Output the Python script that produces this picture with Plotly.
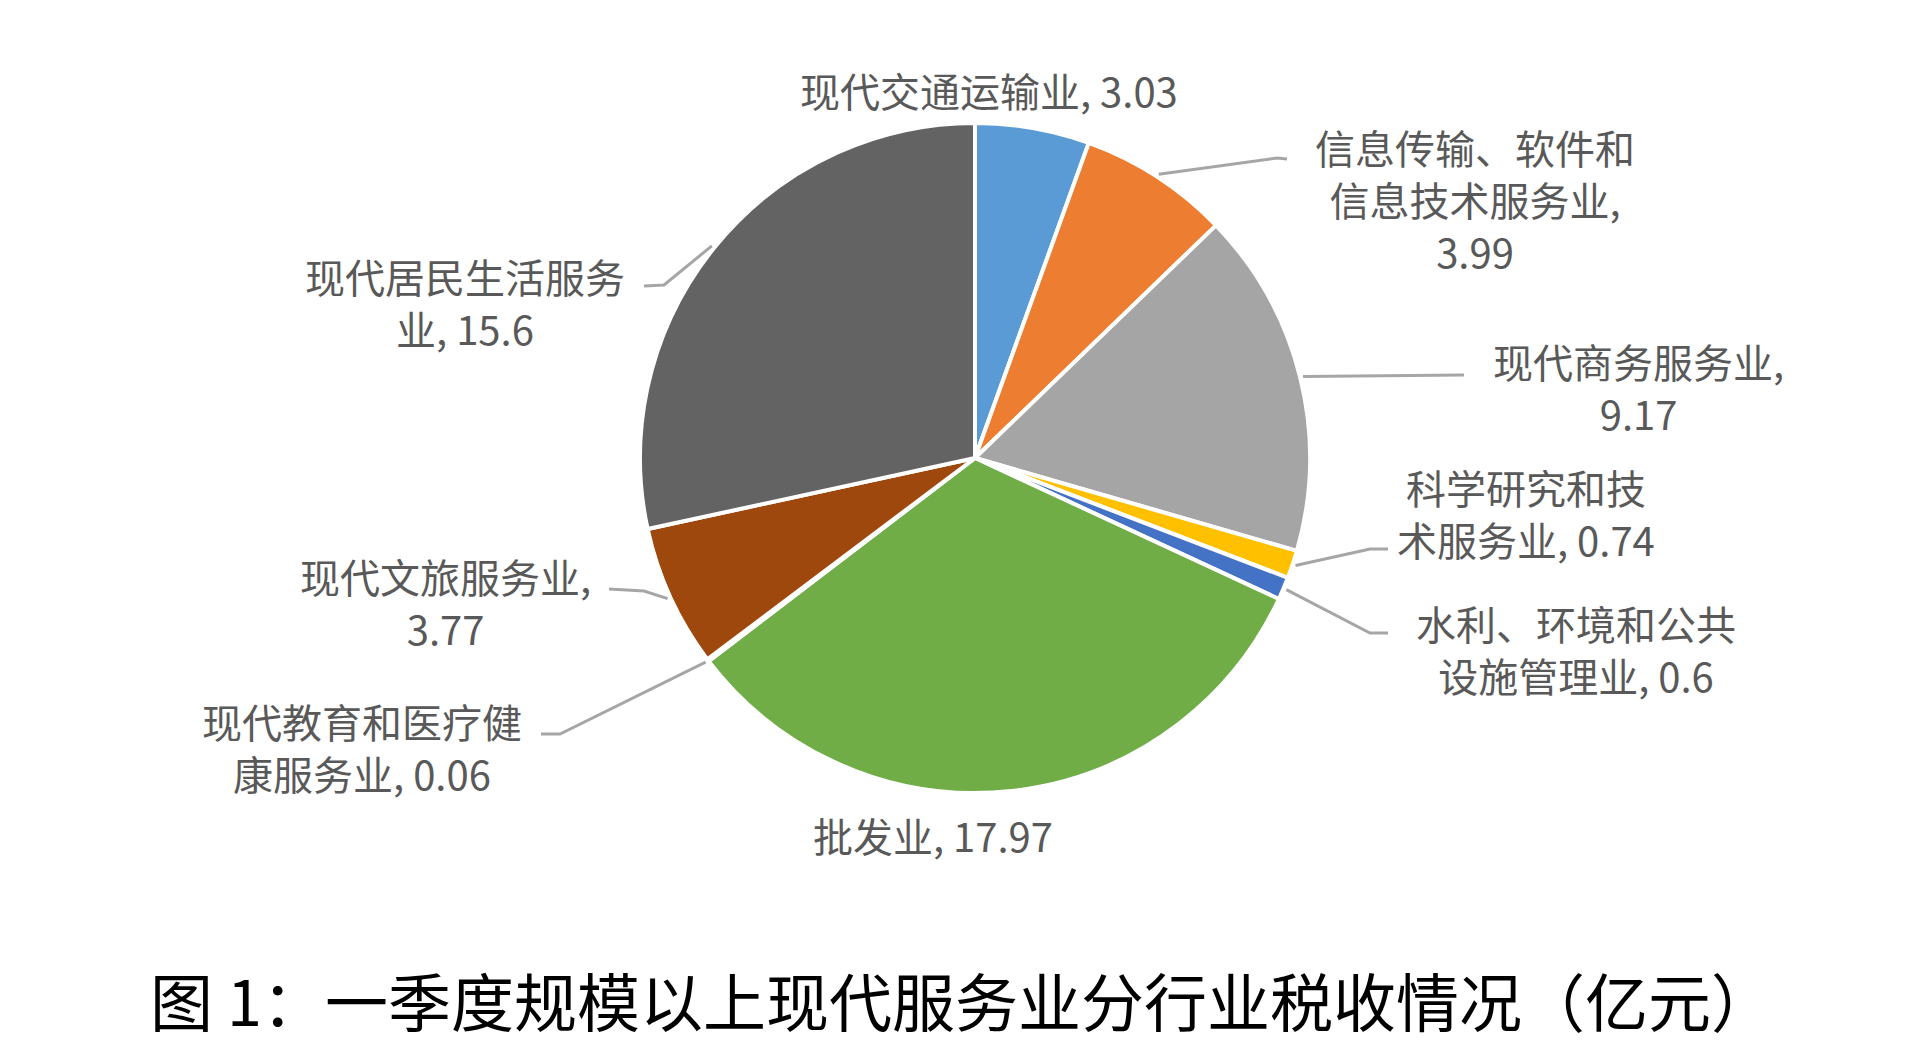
import math
import plotly.graph_objects as go

# ---------------- data ----------------

INDUSTRIES = [
    "现代交通运输业",
    "信息传输、软件和信息技术服务业",
    "现代商务服务业",
    "科学研究和技术服务业",
    "水利、环境和公共设施管理业",
    "批发业",
    "现代教育和医疗健康服务业",
    "现代文旅服务业",
    "现代居民生活服务业",
]

TAX = [3.03, 3.99, 9.17, 0.74, 0.6, 17.97, 0.06, 3.77, 15.6]

TITLE = "图 1：一季度规模以上现代服务业分行业税收情况（亿元）"

# ---------------- style / layout ----------------

W, H = 1920, 1061
PAGE_OFFSET = 8                    # browser body margin
CX, CY, R = 975, 458, 335          # pie centre and radius in page pixels

COLORS = ["#5B9BD5", "#ED7D31", "#A5A5A5", "#FFC000", "#4472C4",
          "#70AD47", "#264478", "#9E480E", "#636363"]

# where to wrap the name, and whether the value goes on its own line
WRAP = [None, 8, None, 6, 8, None, 8, None, 8]
VALUE_NEWLINE = [False, True, True, False, False, False, False, True, False]

# label block centres (page pixels)
LABEL_POS = [(989, 90), (1475, 199), (1638, 387), (1526, 513), (1576, 649),
             (933, 835), (362, 747), (445, 602), (465, 302)]

# leader line bend / end points after the slice edge; None = no leader
LEADERS = [
    None,
    [(1277, 158), (1287, 159)],
    [(1464, 375)],
    [(1370, 549), (1388, 549)],
    [(1370, 633), (1388, 633)],
    None,
    [(560, 734), (541, 734)],
    [(644, 591), (609, 589)],
    [(664, 285), (644, 286)],
]

FONT = "Noto Sans CJK SC"
LABEL_COLOR = "#595959"
LEADER_COLOR = "#A6A6A6"


def px(x):
    return (x - PAGE_OFFSET) / W


def py(y):
    return 1 - (y - PAGE_OFFSET) / H


def label_text(name, value, cut, newline):
    if cut:
        name = name[:cut] + "<br>" + name[cut:]
    sep = ",<br>" if newline else ", "
    return f"{name}{sep}{value:g}"


fig = go.Figure()

fig.add_trace(
    go.Pie(
        labels=INDUSTRIES,
        values=TAX,
        sort=False,
        direction="clockwise",
        rotation=0,
        textinfo="none",
        hoverinfo="label+value",
        marker=dict(colors=COLORS, line=dict(color="white", width=4)),
        domain=dict(x=[px(CX - R), px(CX + R)], y=[py(CY + R), py(CY - R)]),
        showlegend=False,
    )
)

# ---------- labels and leader lines ----------

total = sum(TAX)
cum = 0.0
shapes = []
annotations = []

for i, v in enumerate(TAX):
    mid = (cum + v / 2) / total * 2 * math.pi
    cum += v

    lx, ly = LABEL_POS[i]
    annotations.append(dict(
        x=px(lx), y=py(ly), xref="paper", yref="paper",
        text=label_text(INDUSTRIES[i], v, WRAP[i], VALUE_NEWLINE[i]),
        showarrow=False, xanchor="center", yanchor="middle", align="center",
        font=dict(family=FONT, size=40, color=LABEL_COLOR),
    ))

    if LEADERS[i] is None:
        continue
    sx = CX + (R + 3) * math.sin(mid)
    sy = CY - (R + 3) * math.cos(mid)
    pts = [(sx, sy)] + LEADERS[i]
    path = "M " + " L ".join(f"{px(x):.5f},{py(y):.5f}" for x, y in pts)
    shapes.append(dict(
        type="path", xref="paper", yref="paper", path=path,
        line=dict(color=LEADER_COLOR, width=3),
    ))

annotations.append(dict(
    x=px(962), y=py(998), xref="paper", yref="paper",
    text=TITLE, showarrow=False, xanchor="center", yanchor="middle",
    font=dict(family=FONT, size=63, color="black"),
))

fig.update_layout(
    width=W,
    height=H,
    margin=dict(l=0, r=0, t=0, b=0),
    paper_bgcolor="white",
    plot_bgcolor="white",
    shapes=shapes,
    annotations=annotations,
)

fig.write_html("out.html")
